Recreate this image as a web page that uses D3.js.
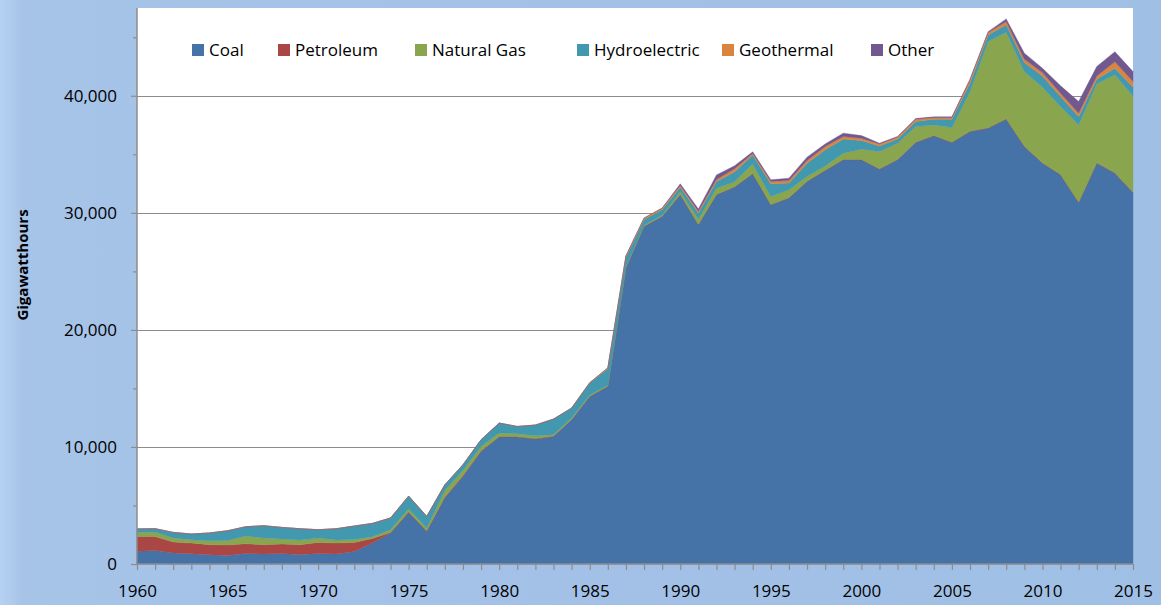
<!DOCTYPE html>
<html lang="en">
<head>
    <meta charset="UTF-8">
    <title>Electricity generation by source, 1960-2015</title>
    <script src="https://d3js.org/d3.v7.min.js"></script>
    <style>
        html, body { margin: 0; padding: 0; }
        body { width: 1161px; height: 605px; overflow: hidden; }
        svg text { font-family: "Open Sans", "Liberation Sans", sans-serif; fill: #000; }
    </style>
</head>
<body>
    <svg id="chart" width="1161" height="605"></svg>
    <script>
        // Years on the x axis
        const years = [1960, 1961, 1962, 1963, 1964, 1965, 1966, 1967, 1968, 1969,
                       1970, 1971, 1972, 1973, 1974, 1975, 1976, 1977, 1978, 1979,
                       1980, 1981, 1982, 1983, 1984, 1985, 1986, 1987, 1988, 1989,
                       1990, 1991, 1992, 1993, 1994, 1995, 1996, 1997, 1998, 1999,
                       2000, 2001, 2002, 2003, 2004, 2005, 2006, 2007, 2008, 2009,
                       2010, 2011, 2012, 2013, 2014, 2015];

        // Gigawatthours by source
        const coal = [1080, 1160, 940, 880, 795, 735, 905, 855, 905, 795,
                      905, 855, 1075, 1790, 2650, 4400, 2790, 5650, 7480, 9615,
                      10845, 10845, 10675, 10900, 12320, 14310, 15170, 25280, 28830, 29685,
                      31540, 28980, 31540, 32200, 33330, 30680, 31260, 32670, 33610, 34530,
                      34530, 33730, 34530, 36005, 36580, 36005, 36945, 37235, 38000, 35660,
                      34245, 33250, 30880, 34245, 33390, 31735];
        const petroleum = [1270, 1190, 940, 910, 855, 885, 825, 795, 805, 855,
                           940, 935, 770, 395, 50, 60, 40, 80, 80, 60,
                           50, 40, 40, 30, 30, 30, 30, 30, 30, 30,
                           30, 30, 30, 30, 30, 30, 30, 30, 30, 30,
                           30, 30, 30, 30, 30, 30, 30, 30, 30, 30,
                           30, 30, 30, 30, 30, 30];
        const naturalGas = [350, 380, 340, 285, 340, 395, 660, 570, 425, 400,
                            375, 260, 255, 145, 230, 260, 245, 540, 435, 370,
                            295, 245, 240, 120, 120, 100, 80, 60, 80, 80,
                            250, 450, 540, 420, 820, 680, 680, 400, 370, 540,
                            880, 1480, 1390, 1335, 905, 1255, 3385, 7365, 7400, 6380,
                            6460, 5800, 6605, 6745, 8370, 8225];
        const hydroelectric = [300, 290, 480, 485, 660, 825, 795, 1050, 990, 965,
                               710, 965, 1145, 1140, 1000, 1080, 995, 500, 485, 570,
                               850, 620, 915, 1330, 850, 1020, 1400, 850, 500, 500,
                               370, 520, 570, 850, 770, 1090, 570, 1145, 1370, 1200,
                               740, 480, 350, 430, 485, 710, 720, 570, 630, 770,
                               965, 850, 710, 400, 570, 745];
        const geothermal = [0, 0, 0, 0, 0, 0, 0, 0, 0, 0,
                            0, 0, 0, 0, 0, 0, 0, 0, 0, 0,
                            0, 0, 0, 0, 0, 30, 80, 110, 110, 110,
                            150, 150, 170, 260, 130, 190, 220, 225, 280, 220,
                            200, 170, 170, 200, 140, 140, 280, 200, 280, 290,
                            280, 290, 290, 280, 550, 485];
        const other = [0, 0, 0, 0, 0, 0, 0, 0, 0, 0,
                       0, 0, 0, 0, 0, 0, 0, 0, 0, 0,
                       0, 0, 0, 0, 0, 0, 0, 0, 0, 0,
                       140, 190, 390, 260, 130, 150, 200, 290, 230, 290,
                       220, 60, 60, 60, 60, 60, 60, 80, 230, 510,
                       380, 630, 995, 800, 860, 850];

        const seriesNames = ["Coal", "Petroleum", "Natural Gas", "Hydroelectric", "Geothermal", "Other"];
        const seriesColors = ["#4572A7", "#AA4643", "#89A54E", "#4198AF", "#DB843D", "#71588F"];

        const yMajorTicks = [0, 10000, 20000, 30000, 40000];
        const yMinorTicks = [5000, 15000, 25000, 35000, 45000];
        const xLabelTicks = [1960, 1965, 1970, 1975, 1980, 1985, 1990, 1995, 2000, 2005, 2010, 2015];

        // Build a table for d3.stack
        const seriesValues = [coal, petroleum, naturalGas, hydroelectric, geothermal, other];
        const table = years.map((yr, i) => {
            const row = { year: yr };
            seriesNames.forEach((name, k) => { row[name] = seriesValues[k][i]; });
            return row;
        });

        // Dimensions
        const plot = { left: 137, right: 1133, top: 8, bottom: 564 };

        const svg = d3.select("#chart");

        // Background gradient
        const defs = svg.append("defs");
        const grad = defs.append("linearGradient")
            .attr("id", "bg")
            .attr("x1", "0").attr("x2", "1").attr("y1", "0").attr("y2", "0");
        grad.append("stop").attr("offset", "0%").attr("stop-color", "#B6D1F1");
        grad.append("stop").attr("offset", "2%").attr("stop-color", "#A6C3E8");
        grad.append("stop").attr("offset", "100%").attr("stop-color", "#A0BFE5");

        svg.append("rect")
            .attr("width", 1161)
            .attr("height", 605)
            .attr("fill", "url(#bg)");

        // Plot area
        svg.append("rect")
            .attr("x", plot.left)
            .attr("y", plot.top)
            .attr("width", plot.right - plot.left)
            .attr("height", plot.bottom - plot.top)
            .attr("fill", "#ffffff");

        // Scales
        const xScale = d3.scaleLinear()
            .domain([1960, 2015])
            .range([plot.left, plot.right]);

        const yScale = d3.scaleLinear()
            .domain([0, 47500])
            .range([plot.bottom, plot.top]);

        // Gridlines
        svg.append("g")
            .selectAll("line")
            .data(yMajorTicks.filter(d => d > 0))
            .enter().append("line")
            .attr("x1", plot.left)
            .attr("x2", plot.right)
            .attr("y1", d => Math.round(yScale(d)) + 0.5)
            .attr("y2", d => Math.round(yScale(d)) + 0.5)
            .attr("stroke", "#8C8C8C")
            .attr("stroke-width", 1.2);

        // Stacked areas
        const stack = d3.stack().keys(seriesNames);
        const layers = stack(table);

        const area = d3.area()
            .x(d => xScale(d.data.year))
            .y0(d => yScale(d[0]))
            .y1(d => yScale(d[1]));

        svg.append("g")
            .selectAll("path")
            .data(layers)
            .enter().append("path")
            .attr("d", area)
            .attr("fill", (d, i) => seriesColors[i])
            .attr("stroke", (d, i) => seriesColors[i])
            .attr("stroke-width", 0.4);

        // Y axis
        const yAxis = svg.append("g")
            .attr("transform", `translate(${plot.left},0)`)
            .call(d3.axisLeft(yScale)
                .tickValues(yMajorTicks)
                .tickSize(6)
                .tickPadding(14)
                .tickFormat(d3.format(",")));

        svg.append("g")
            .attr("transform", `translate(${plot.left},0)`)
            .call(d3.axisLeft(yScale)
                .tickValues(yMinorTicks)
                .tickSize(4)
                .tickFormat(""))
            .call(g => g.select(".domain").remove())
            .selectAll("line").attr("stroke", "#8C8C8C").attr("stroke-width", 1.2);

        yAxis.select(".domain")
            .attr("stroke", "#8C8C8C")
            .attr("stroke-width", 1.5)
            .attr("d", `M0,${plot.top}V${plot.bottom}`);
        yAxis.selectAll(".tick line").attr("stroke", "#8C8C8C").attr("stroke-width", 1.2);
        yAxis.selectAll("text")
            .style("font-size", "17px")
            .style("fill", "#000");

        // X axis: a tick every year, labels every 5 years
        const xAxis = svg.append("g")
            .attr("transform", `translate(0,${plot.bottom})`)
            .call(d3.axisBottom(xScale)
                .tickValues(years)
                .tickSize(6)
                .tickPadding(15)
                .tickFormat(d => xLabelTicks.includes(d) ? String(d) : ""));

        xAxis.select(".domain")
            .attr("stroke", "#8C8C8C")
            .attr("stroke-width", 1.5)
            .attr("d", `M${plot.left},0H${plot.right}`);
        xAxis.selectAll(".tick line").attr("stroke", "#8C8C8C").attr("stroke-width", 1.2);
        xAxis.selectAll("text")
            .style("font-size", "17px")
            .style("fill", "#000");

        // Y axis title
        svg.append("text")
            .attr("transform", "translate(28,265) rotate(-90)")
            .attr("text-anchor", "middle")
            .style("font-size", "15px")
            .style("font-weight", "bold")
            .text("Gigawatthours");

        // Legend
        const legendX = [192, 278, 415, 577, 722, 871];
        const legend = svg.append("g");
        seriesNames.forEach((name, i) => {
            const item = legend.append("g")
                .attr("transform", `translate(${legendX[i]},44)`);
            item.append("rect")
                .attr("width", 12)
                .attr("height", 12)
                .attr("fill", seriesColors[i]);
            item.append("text")
                .attr("x", 17)
                .attr("y", 12)
                .style("font-size", "17px")
                .text(name);
        });
    </script>
</body>
</html>
